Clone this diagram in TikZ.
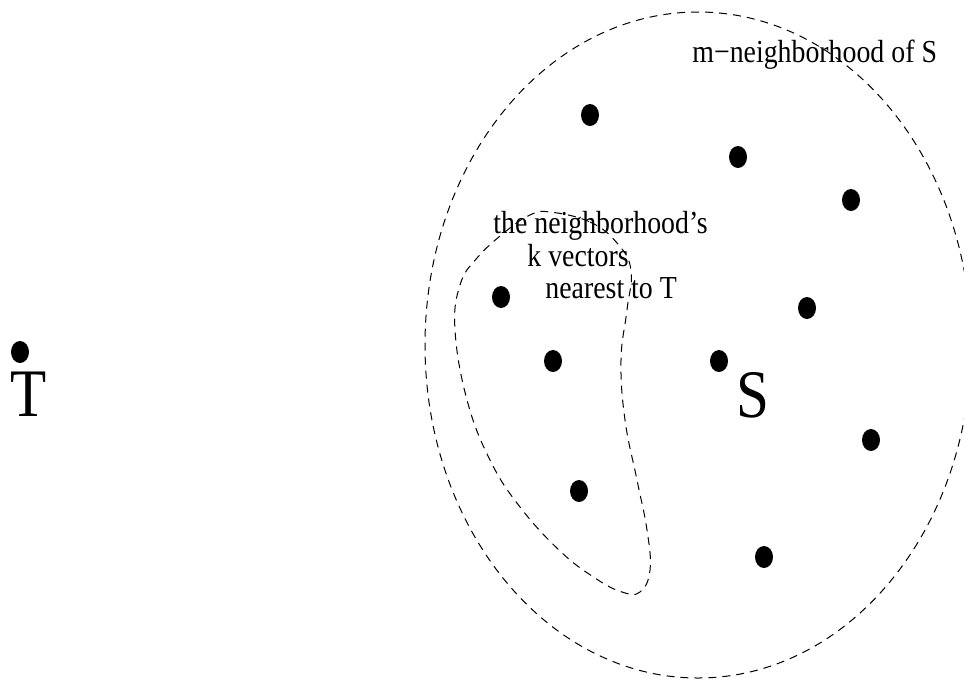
\documentclass[tikz,border=0pt]{standalone}
\usepackage{fontspec}
\setmainfont{Liberation Serif}[FakeStretch=0.87]
\usepackage{tikz}
\usetikzlibrary{shapes.geometric}
\definecolor{Tinta}{HTML}{000000}

\begin{document}
\begin{tikzpicture}[
  x=0.5pt,y=-0.5pt,
  font=\fontsize{16}{17}\selectfont,
  vec/.style={ellipse,fill=Tinta,inner sep=0pt,minimum width=9pt,minimum height=11pt},
  nbhd/.style={draw=Tinta,line width=0.5pt,dash pattern=on 4pt off 3pt},
  big/.style={font=\fontsize{34}{36}\selectfont,inner sep=0pt}
]
  \useasboundingbox (0,0) rectangle (964,681);

  % Vector T, far from the set.
  \node[vec] (t) at (20,352) {};
  \node[big,anchor=base] (tlab) at (29,416) {T};

  % Set S and its m-neighborhood.
  \draw[nbhd] (698,345) ellipse [x radius=136.5pt,y radius=166.5pt];
  \node[anchor=base west,inner sep=0pt] (mlab) at (692,62) {m\textminus neighborhood of S};
  \node[vec] (s1) at (590,115) {};
  \node[vec] (s2) at (738,157) {};
  \node[vec] (s3) at (851,200) {};
  \node[vec] (s4) at (501,297) {};
  \node[vec] (s5) at (807,308) {};
  \node[vec] (s6) at (553,361) {};
  \node[vec] (s7) at (719,361) {};
  \node[vec] (s8) at (871,440) {};
  \node[vec] (s9) at (579,491) {};
  \node[vec] (s10) at (764,557) {};
  \node[big,anchor=base] (slab) at (753,417) {S};

  % The k nearest vectors.
  \draw[nbhd] plot[smooth cycle,tension=0.7] coordinates {
    (550,212) (590,222) (617,243) (631,270) (627,310) (621,360)
    (625,420) (637,480) (647,530) (650,570) (640,592) (622,592)
    (595,578) (560,551) (520,507) (490,460) (467,400) (455,330)
    (460,285) (477,258) (505,232) (530,215)};
  \node[anchor=base west,inner sep=0pt] (k1) at (493,233) {the neighborhood's};
  \node[anchor=base west,inner sep=0pt] (k2) at (527,266) {k vectors};
  \node[anchor=base west,inner sep=0pt] (k3) at (545,298) {nearest to T};
\end{tikzpicture}
\end{document}
